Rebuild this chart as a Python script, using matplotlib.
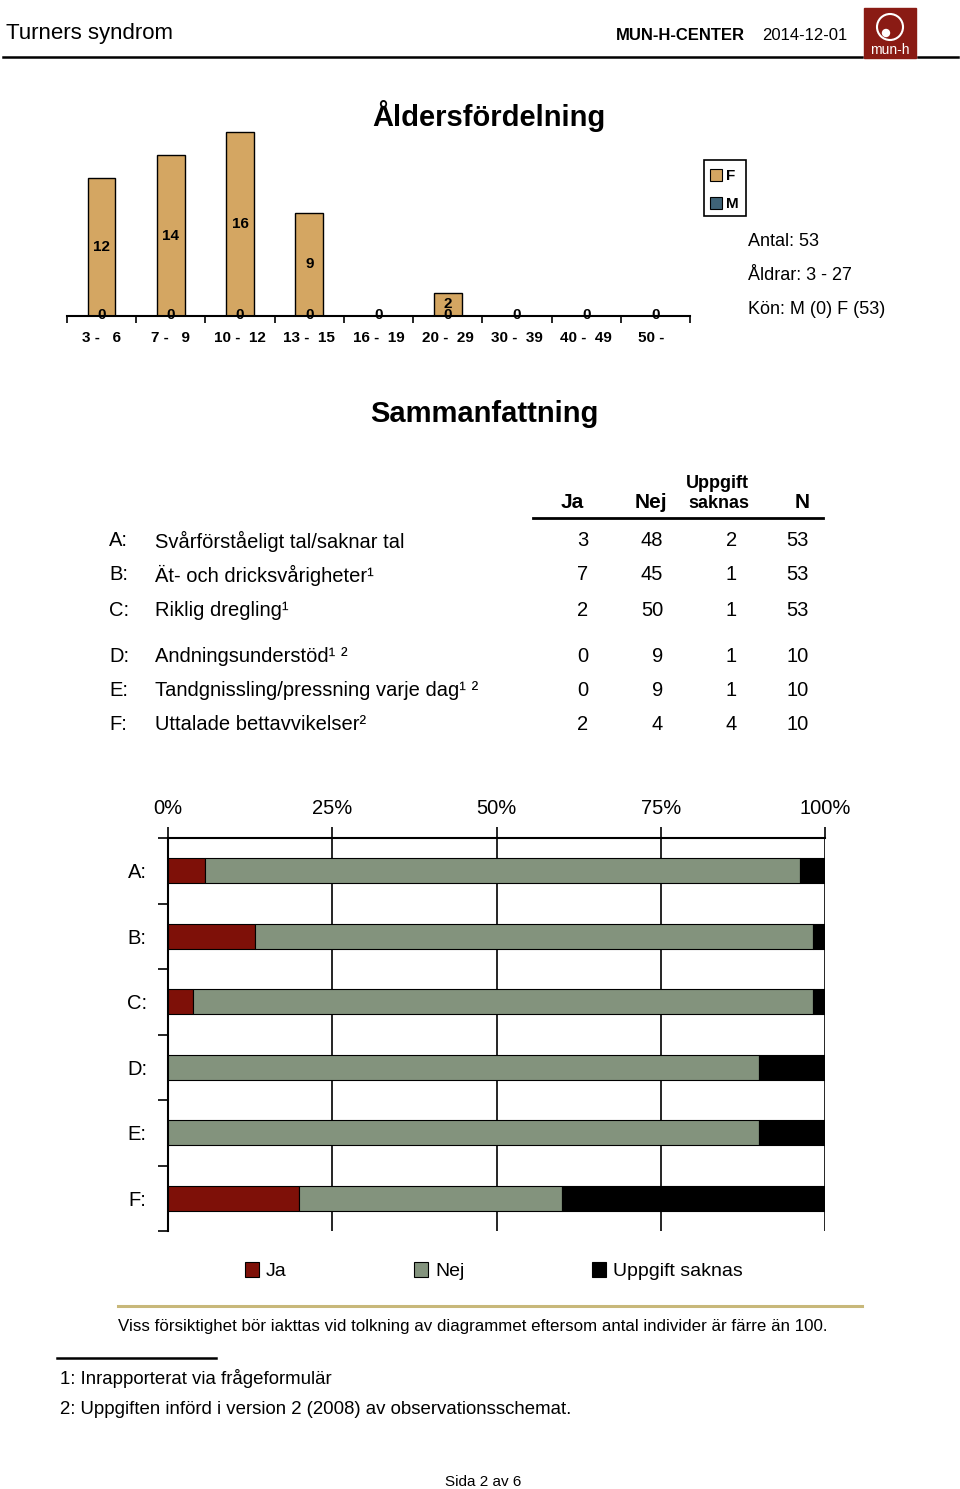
import numpy as np
import matplotlib
matplotlib.use("Agg")
import matplotlib.pyplot as plt
from matplotlib.patches import Rectangle, Circle

plt.rcParams['font.family'] = ['Liberation Sans', 'DejaVu Sans']

W, H = 960, 1489

# age distribution
age_groups = ["3 -   6", "7 -   9", "10 -  12", "13 -  15", "16 -  19",
              "20 -  29", "30 -  39", "40 -  49", "50 -  "]
age_f = [12, 14, 16, 9, 0, 2, 0, 0, 0]
age_m = [0, 0, 0, 0, 0, 0, 0, 0, 0]
info_lines = ["Antal: 53", "Åldrar: 3 - 27", "Kön: M (0) F (53)"]

# summary table
row_letters = ["A:", "B:", "C:", "D:", "E:", "F:"]
row_texts = ["Svårförståeligt tal/saknar tal",
             "Ät- och dricksvårigheter¹",
             "Riklig dregling¹",
             "Andningsunderstöd¹ ²",
             "Tandgnissling/pressning varje dag¹ ²",
             "Uttalade bettavvikelser²"]
ja = np.array([3, 7, 2, 0, 0, 2])
nej = np.array([48, 45, 50, 9, 9, 4])
saknas = np.array([2, 1, 1, 1, 1, 4])
n_tot = np.array([53, 53, 53, 10, 10, 10])

pct_ticks = [0, 0.25, 0.5, 0.75, 1.0]
pct_labels = ["0%", "25%", "50%", "75%", "100%"]

C_F = "#d4a662"
C_M = "#3f6377"
C_JA = "#7e1008"
C_NEJ = "#83937d"
C_SAK = "#000000"
C_LOGO = "#8a1b14"


def fax(x0, y0, x1, y1):
    # axes from pixel box (top-left origin)
    return [x0 / W, 1 - y1 / H, (x1 - x0) / W, (y1 - y0) / H]


fig = plt.figure(figsize=(W / 100, H / 100), dpi=100)

# overlay for page text and decorations
ov = fig.add_axes([0, 0, 1, 1])
ov.set_xlim(0, W)
ov.set_ylim(H, 0)
ov.axis("off")

# header
ov.text(6, 33, "Turners syndrom", fontsize=16, ha="left", va="center")
ov.text(616, 35, "MUN-H-CENTER", fontsize=12, fontweight="bold", ha="left", va="center")
ov.text(762, 35, "2014-12-01", fontsize=12, ha="left", va="center")
ov.plot([3, 862], [57, 57], color="black", lw=1.8)
ov.plot([918, 958], [57, 57], color="black", lw=1.8)
ov.add_patch(Rectangle((864, 8), 52, 50, color=C_LOGO, zorder=3))
ov.add_patch(Circle((890, 27), 13, fill=False, ec="white", lw=1.5, zorder=4))
ov.add_patch(Circle((886, 33), 3.5, color="white", zorder=4))
ov.text(890, 50, "mun-h", fontsize=10, color="white", ha="center", va="center", zorder=5)

# age chart
ov.text(489, 116, "Åldersfördelning", fontsize=21, fontweight="bold", ha="center", va="center")
ax1 = fig.add_axes(fax(67, 120, 690, 316))
x = np.arange(len(age_groups))
ax1.bar(x, age_m, width=0.4, color=C_M, edgecolor="black", lw=1)
ax1.bar(x, age_f, width=0.4, bottom=age_m, color=C_F, edgecolor="black", lw=1)
for i in range(len(x)):
    if age_f[i] > 0:
        ax1.text(x[i], age_m[i] + age_f[i] / 2, str(age_f[i]), ha="center", va="center",
                 fontsize=11, fontweight="bold")
    ax1.text(x[i], age_m[i] + 0.1, str(age_m[i]), ha="center", va="center",
             fontsize=11, fontweight="bold")
ax1.set_xlim(-0.5, len(x) - 0.5)
ax1.set_ylim(0, 196 / 11.5)
for s in ["top", "right", "left"]:
    ax1.spines[s].set_visible(False)
ax1.spines["bottom"].set_linewidth(1.5)
ax1.set_yticks([])
ax1.set_xticks(np.arange(-0.5, len(x)), minor=True)
ax1.set_xticks(x)
ax1.set_xticklabels(age_groups, fontsize=11, fontweight="bold")
ax1.tick_params(axis="x", which="major", length=0, pad=10.5)
ax1.tick_params(axis="x", which="minor", length=5, width=1.2, direction="out")
ax1.patch.set_alpha(0)

# F/M legend box
ov.add_patch(Rectangle((704, 160), 42, 56, fill=False, ec="black", lw=1.2))
ov.add_patch(Rectangle((710, 169), 12, 12, fc=C_F, ec="black", lw=0.8))
ov.text(726, 176, "F", fontsize=11, fontweight="bold", ha="left", va="center")
ov.add_patch(Rectangle((710, 197), 12, 12, fc=C_M, ec="black", lw=0.8))
ov.text(726, 204, "M", fontsize=11, fontweight="bold", ha="left", va="center")
for k, line in enumerate(info_lines):
    ov.text(748, 242 + 33.5 * k, line, fontsize=13, ha="left", va="center")

# summary table
ov.text(484, 414, "Sammanfattning", fontsize=21, fontweight="bold", ha="center", va="center")
ov.text(584, 503, "Ja", fontsize=15, fontweight="bold", ha="right", va="center")
ov.text(667, 503, "Nej", fontsize=15, fontweight="bold", ha="right", va="center")
ov.text(717, 483, "Uppgift", fontsize=13, fontweight="bold", ha="center", va="center")
ov.text(719, 504, "saknas", fontsize=13, fontweight="bold", ha="center", va="center")
ov.text(810, 503, "N", fontsize=15, fontweight="bold", ha="right", va="center")
ov.plot([533, 823], [518, 518], color="black", lw=2)
row_y = [541, 575, 610, 656, 690, 725]
col_right = [588, 663, 737, 809]
for r in range(len(row_letters)):
    ov.text(109, row_y[r], row_letters[r], fontsize=14.5, ha="left", va="center")
    ov.text(155, row_y[r], row_texts[r], fontsize=14.5, ha="left", va="center")
    for c, vals in enumerate([ja, nej, saknas, n_tot]):
        ov.text(col_right[c], row_y[r], str(vals[r]), fontsize=14.5, ha="right", va="center")

# percentage bar chart
ax2 = fig.add_axes(fax(168, 838, 825, 1231))
pos = np.arange(len(row_letters))
p_ja = ja / n_tot
p_nej = nej / n_tot
p_sak = saknas / n_tot
ax2.barh(pos, p_ja, height=0.38, color=C_JA, edgecolor="black", lw=0.8, zorder=3)
ax2.barh(pos, p_nej, height=0.38, left=p_ja, color=C_NEJ, edgecolor="black", lw=0.8, zorder=3)
ax2.barh(pos, p_sak, height=0.38, left=p_ja + p_nej, color=C_SAK, edgecolor="black", lw=0.8, zorder=3)
ax2.set_xlim(0, 1)
ax2.set_ylim(len(pos) - 0.5, -0.5)
ax2.xaxis.tick_top()
ax2.set_xticks(pct_ticks)
ax2.set_xticklabels(pct_labels, fontsize=14.5)
ax2.tick_params(axis="x", length=8, width=1.2, pad=6.5, direction="out")
ax2.grid(axis="x", color="black", lw=1.2, zorder=0)
ax2.set_yticks(np.arange(-0.5, len(pos)))
ax2.set_yticklabels([])
ax2.tick_params(axis="y", length=7, width=1.2, direction="out")
for k, lab in enumerate(row_letters):
    ax2.text(-31 / 657, pos[k] + 0.03, lab, fontsize=14.5, ha="center", va="center",
             transform=ax2.get_yaxis_transform())
for s in ["right", "bottom"]:
    ax2.spines[s].set_visible(False)
ax2.spines["top"].set_linewidth(1.5)
ax2.spines["left"].set_linewidth(1.5)
ax2.patch.set_alpha(0)

# bottom legend
leg = [(245, "Ja", C_JA), (414, "Nej", C_NEJ), (592, "Uppgift saknas", C_SAK)]
for lx, lt, lc in leg:
    ov.add_patch(Rectangle((lx, 1262), 14, 15, fc=lc, ec="black", lw=0.8))
    ov.text(lx + 21, 1272, lt, fontsize=14, ha="left", va="center")

ov.plot([118, 862], [1306, 1306], color="#c8b87a", lw=2.2)
ov.text(118, 1327, "Viss försiktighet bör iakttas vid tolkning av diagrammet eftersom antal individer är färre än 100.",
        fontsize=12.2, ha="left", va="center")

ov.plot([57, 216], [1358, 1358], color="black", lw=1.8)
ov.text(60, 1378, "1: Inrapporterat via frågeformulär", fontsize=13.4, ha="left", va="center")
ov.text(60, 1410, "2: Uppgiften införd i version 2 (2008) av observationsschemat.", fontsize=13.4,
        ha="left", va="center")
ov.text(483, 1482, "Sida 2 av 6", fontsize=11, ha="center", va="center")

fig.savefig("out.png", dpi=100)
